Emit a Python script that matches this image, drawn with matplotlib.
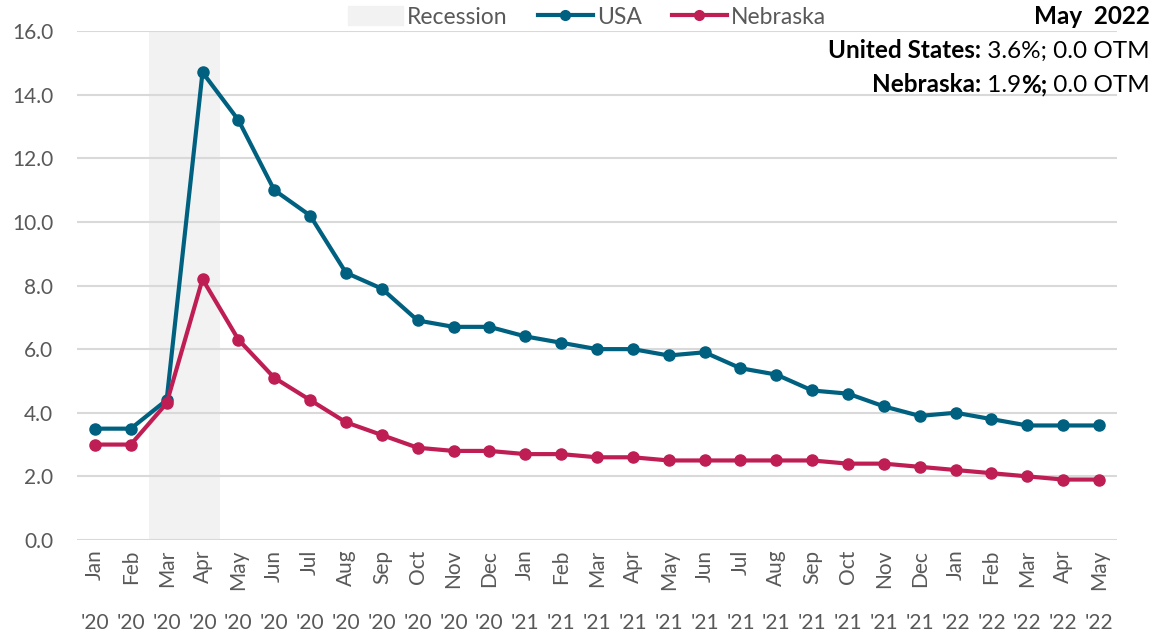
import matplotlib
matplotlib.use("Agg")
import matplotlib.pyplot as plt
from matplotlib.patches import Patch
from matplotlib.lines import Line2D
import numpy as np

months = ["Jan", "Feb", "Mar", "Apr", "May", "Jun", "Jul", "Aug", "Sep", "Oct", "Nov", "Dec",
          "Jan", "Feb", "Mar", "Apr", "May", "Jun", "Jul", "Aug", "Sep", "Oct", "Nov", "Dec",
          "Jan", "Feb", "Mar", "Apr", "May"]
years = ["'20"] * 12 + ["'21"] * 12 + ["'22"] * 5

usa = [3.5, 3.5, 4.4, 14.7, 13.2, 11.0, 10.2, 8.4, 7.9, 6.9, 6.7, 6.7,
       6.4, 6.2, 6.0, 6.0, 5.8, 5.9, 5.4, 5.2, 4.7, 4.6, 4.2, 3.9,
       4.0, 3.8, 3.6, 3.6, 3.6]
nebraska = [3.0, 3.0, 4.3, 8.2, 6.3, 5.1, 4.4, 3.7, 3.3, 2.9, 2.8, 2.8,
            2.7, 2.7, 2.6, 2.6, 2.5, 2.5, 2.5, 2.5, 2.5, 2.4, 2.4, 2.3,
            2.2, 2.1, 2.0, 1.9, 1.9]
recession = (2, 3)  # Mar '20 - Apr '20

C_USA = "#00607F"
C_NE = "#BE1E54"
GRAY = "#595959"

plt.rcParams["font.family"] = ["Lato", "DejaVu Sans"]

fig = plt.figure(figsize=(11.57, 6.36), dpi=100)
ax = fig.add_axes([77 / 1157, 96 / 636, 1040 / 1157, 509 / 636])

x = np.arange(len(months))
ax.axvspan(recession[0] - 0.5, recession[1] + 0.5, color="#F2F2F2", zorder=0, lw=0)
ax.plot(x, usa, color=C_USA, lw=3, marker="o", ms=8, zorder=3)
ax.plot(x, nebraska, color=C_NE, lw=3, marker="o", ms=8, zorder=3)

ax.set_xlim(-0.5, len(months) - 0.5)
ax.set_ylim(0, 16)
ax.set_yticks(np.arange(0, 16.1, 2))
ax.set_yticklabels([f"{v:.1f}" for v in np.arange(0, 16.1, 2)])
ax.yaxis.grid(True, color="#D9D9D9", lw=1.5)
ax.set_axisbelow(True)
for s in ax.spines.values():
    s.set_visible(False)
ax.tick_params(length=0, labelsize=15, colors=GRAY)
ax.tick_params(axis="y", pad=17)

ax.set_xticks(x)
ax.set_xticklabels(months, rotation=90, fontsize=15, color=GRAY)
ax.tick_params(axis="x", pad=7)
for xi, yr in zip(x, years):
    ax.text(xi, -0.163, yr, transform=ax.get_xaxis_transform(), ha="center", va="center",
            fontsize=15, color=GRAY)

handles = [Patch(color="#F2F2F2", label="Recession"),
           Line2D([], [], color=C_USA, lw=3, marker="o", ms=7, label="USA"),
           Line2D([], [], color=C_NE, lw=3, marker="o", ms=7, label="Nebraska")]
fig.legend(handles=handles, loc="center", bbox_to_anchor=(587 / 1157, 1 - 17 / 636), ncol=3,
           frameon=False, fontsize=16.5, labelcolor=GRAY, handlelength=2.4, handleheight=0.9,
           columnspacing=1.3, handletextpad=0.2)

# annotation block, right aligned
fig.canvas.draw()
r = fig.canvas.get_renderer()
right = 1150 / 1157
lines = [
    [("May  2022", "bold")],
    [("United States:", "bold"), (" 3.6%; 0.0 OTM", "normal")],
    [("Nebraska:", "bold"), (" 1.9", "normal"), ("%;", "bold"), (" 0.0 OTM", "normal")],
]
ys = [17, 51, 85]
for parts, yp in zip(lines, ys):
    xr = right
    for txt, w in reversed(parts):
        t = fig.text(xr, 1 - yp / 636, txt, ha="right", va="center", fontsize=17.5,
                     fontweight=w, color="black")
        bb = t.get_window_extent(renderer=r)
        xr -= bb.width / fig.bbox.width

fig.savefig("out.png", dpi=100)
